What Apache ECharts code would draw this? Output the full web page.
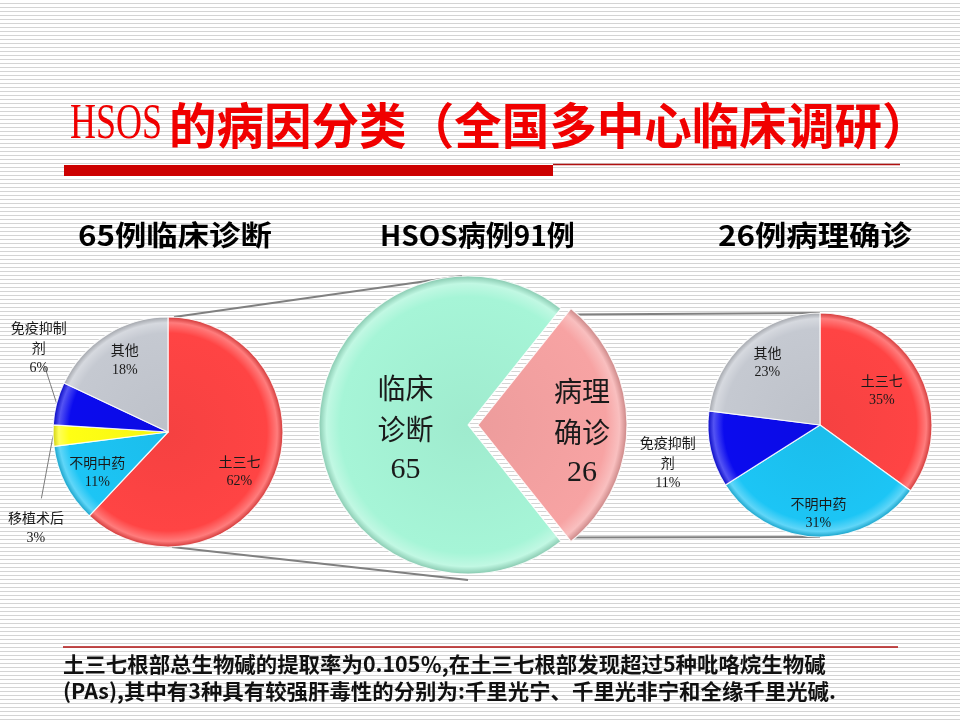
<!DOCTYPE html>
<html style="height: 100%; width: 100%">
<head>
  <meta charset="utf-8" />
  <style>
    body {
      margin: 0;
      height: 100%;
      width: 100%;
      background: #fff repeating-linear-gradient(180deg, #ffffff 0px, #ffffff 3px, #d4d4d4 3px, #d4d4d4 4px);
    }
    #chart-panel { width: 960px; height: 720px; }
  </style>
</head>
<body>
  <div id="chart-panel"></div>
  <script src="https://cdn.jsdelivr.net/npm/echarts@6/dist/echarts.min.js"></script>
  <script>
    // 65例临床诊断 (百分比)
    var leftNames = ["土三七", "不明中药", "移植术后", "免疫抑制剂", "其他"];
    var leftValues = [62, 11, 3, 6, 18];
    // HSOS病例91例
    var midNames = ["临床诊断", "病理确诊"];
    var midValues = [65, 26];
    // 26例病理确诊 (百分比)
    var rightNames = ["土三七", "不明中药", "免疫抑制剂", "其他"];
    var rightValues = [35, 31, 11, 23];

    var titleText = "的病因分类（全国多中心临床调研）";
    var subTitles = ["65例临床诊断", "HSOS病例91例", "26例病理确诊"];
    var noteLines = [
      "土三七根部总生物碱的提取率为0.105％,在土三七根部发现超过5种吡咯烷生物碱",
      "(PAs),其中有3种具有较强肝毒性的分别为:千里光宁、千里光非宁和全缘千里光碱."
    ];

    // 饼图几何
    var L = { cx: 168, cy: 432, r: 115 };
    var M = { cx: 468, cy: 425, r: 149 };
    var R = { cx: 820, cy: 425, r: 112 };
    var explode = 10;

    // 标签位置: [角度(顺时针, 自12点), 半径倍数]
    var leftPlaces = [[119, 0.71], [240, 0.71], [234, 1.42], [303, 1.34], [329, 0.73]];
    var leftGuides = [false, false, true, true, false];
    var midPlaces = [[266, 0.42], [94, 0.70]];
    var rightPlaces = [[61, 0.63], [181, 0.79], [256, 1.40], [320, 0.73]];

    var catColors = {
      "土三七": "#ff4444",
      "不明中药": "#1cc5f5",
      "移植术后": "#ffff14",
      "免疫抑制剂": "#0b0bee",
      "其他": "#c5c9d1"
    };
    var midColors = ["#a6f5d7", "#f7a3a3"];

    var pinkSpan = 360 * midValues[1] / (midValues[0] + midValues[1]);
    var midStart = -pinkSpan / 2; // 病理确诊居右

    var dom = document.getElementById("chart-panel");
    var myChart = echarts.init(dom);

    function mix(hex, target, t) {
      var n = parseInt(hex.slice(1), 16);
      var r = n >> 16, g = (n >> 8) & 255, b = n & 255;
      r = Math.round(r + (target - r) * t);
      g = Math.round(g + (target - g) * t);
      b = Math.round(b + (target - b) * t);
      return "rgb(" + r + "," + g + "," + b + ")";
    }

    function bevel(hex, geo) {
      return {
        type: "radial", x: geo.cx, y: geo.cy, r: geo.r, global: true,
        colorStops: [
          { offset: 0, color: mix(hex, 0, 0.04) },
          { offset: 0.86, color: hex },
          { offset: 0.95, color: mix(hex, 255, 0.3) },
          { offset: 1, color: mix(hex, 0, 0.18) }
        ]
      };
    }

    function polar(geo, deg, dist) {
      var a = deg * Math.PI / 180;
      return [geo.cx + dist * Math.sin(a), geo.cy - dist * Math.cos(a)];
    }

    // 各扇区中线角(顺时针, 自12点)
    function midAngles(values, startDeg) {
      var total = values.reduce(function (a, b) { return a + b; }, 0);
      var acc = startDeg, out = [];
      values.forEach(function (v) {
        var span = 360 * v / total;
        out.push(acc + span / 2);
        acc += span;
      });
      return out;
    }

    function layoutFn(geo, values, places, startDeg, guides) {
      var mids = midAngles(values, startDeg);
      return function (p) {
        var i = p.dataIndex;
        var pos = polar(geo, places[i][0], places[i][1] * geo.r);
        var res = { x: pos[0], y: pos[1], align: "center", verticalAlign: "middle" };
        if (guides && guides[i]) {
          var a = polar(geo, mids[i], geo.r);
          var e = [a[0] + (pos[0] - a[0]) * 0.68, a[1] + (pos[1] - a[1]) * 0.68];
          res.labelLinePoints = [a, [(a[0] + e[0]) / 2, (a[1] + e[1]) / 2], e];
        }
        return res;
      };
    }

    function smallFormatter(p) {
      var n = p.name;
      var lines = n.length > 4 ? [n.slice(0, 4), n.slice(4)] : [n];
      return lines.map(function (s) { return "{n|" + s + "}"; }).join("\n") + "\n{p|" + p.value + "%}";
    }

    var smallRich = {
      n: { fontFamily: "Noto Sans CJK SC", fontSize: 14, color: "#1a1a1a", lineHeight: 20 },
      p: { fontFamily: "Liberation Serif", fontSize: 14, color: "#1a1a1a", lineHeight: 20 }
    };

    function sidePie(geo, names, values, places, guides) {
      return {
        type: "pie",
        center: [geo.cx, geo.cy],
        radius: geo.r,
        startAngle: 90,
        clockwise: true,
        avoidLabelOverlap: false,
        emphasis: { disabled: true },
        itemStyle: { borderColor: "rgba(255,255,255,0.85)", borderWidth: 1.2 },
        label: { show: true, position: "inside", formatter: smallFormatter, rich: smallRich },
        labelLine: { show: false },
        labelLayout: layoutFn(geo, values, places, 0, guides),
        data: names.map(function (n, i) {
          var item = { name: n, value: values[i], itemStyle: { color: bevel(catColors[n], geo) } };
          if (guides && guides[i]) {
            item.label = { position: "outside" };
            item.labelLine = { show: true, length: 6, length2: 6, lineStyle: { color: "#7a7a7a", width: 1 } };
          }
          return item;
        })
      };
    }

    // 中间饼: 两层, 第二层只画分离出来的"病理确诊"
    var midMids = midAngles(midValues, 90 - midStart);
    var pinkShift = polar({ cx: 0, cy: 0 }, midMids[1], explode);
    var MP = { cx: M.cx + pinkShift[0], cy: M.cy + pinkShift[1], r: M.r };

    function midPie(geo, showIdx) {
      return {
        type: "pie",
        center: [geo.cx, geo.cy],
        radius: geo.r,
        startAngle: midStart,
        clockwise: true,
        avoidLabelOverlap: false,
        emphasis: { disabled: true },
        label: {
          show: true,
          position: "inside",
          formatter: function (p) {
            return "{n|" + p.name.slice(0, 2) + "}\n{n|" + p.name.slice(2) + "}\n{v|" + p.value + "}";
          },
          rich: {
            n: { fontFamily: "Noto Sans CJK SC", fontSize: 28, color: "#1a1a1a", lineHeight: 41 },
            v: { fontFamily: "Liberation Serif", fontSize: 30, color: "#1a1a1a", lineHeight: 41 }
          }
        },
        labelLine: { show: false },
        labelLayout: layoutFn(geo, midValues, midPlaces, 90 - midStart, null),
        data: midNames.map(function (n, i) {
          var on = i === showIdx;
          return {
            name: n,
            value: midValues[i],
            label: { show: on },
            itemStyle: on
              ? { color: bevel(midColors[i], geo), borderColor: "rgba(255,255,255,0.85)", borderWidth: 1.2 }
              : { color: "transparent", borderWidth: 0 }
          };
        })
      };
    }

    var option = {
      animation: false,
      backgroundColor: "transparent",
      graphic: [
        // 连接线
        { type: "line", z: 0, shape: { x1: L.cx + 6, y1: L.cy - L.r, x2: M.cx - 6, y2: M.cy - M.r }, style: { stroke: "#808080", lineWidth: 2 } },
        { type: "line", z: 0, shape: { x1: L.cx + 4, y1: L.cy + L.r, x2: M.cx, y2: M.cy + M.r + 6 }, style: { stroke: "#808080", lineWidth: 2 } },
        { type: "line", z: 0, shape: { x1: polar(MP, midMids[1] - pinkSpan / 2, MP.r)[0], y1: polar(MP, midMids[1] - pinkSpan / 2, MP.r)[1] + 6, x2: R.cx, y2: R.cy - R.r }, style: { stroke: "#808080", lineWidth: 2 } },
        { type: "line", z: 0, shape: { x1: polar(MP, midMids[1] + pinkSpan / 2, MP.r)[0], y1: polar(MP, midMids[1] + pinkSpan / 2, MP.r)[1] - 4, x2: R.cx, y2: R.cy + R.r }, style: { stroke: "#808080", lineWidth: 2 } },
        // 标题
        { type: "text", x: 70, y: 125, scaleX: 0.72, style: { text: "HSOS", font: '50px "Liberation Serif"', fill: "#f00000", verticalAlign: "middle", textVerticalAlign: "middle" } },
        { type: "text", x: 169, y: 125, scaleX: 0.97, style: { text: titleText, font: 'bold 49px "Noto Sans CJK SC"', fill: "#f00000", verticalAlign: "middle", textVerticalAlign: "middle" } },
        { type: "rect", shape: { x: 64, y: 165, width: 489, height: 11 }, style: { fill: "#cc0000" } },
        { type: "line", shape: { x1: 553, y1: 164.5, x2: 900, y2: 164.5 }, style: { stroke: "#b01010", lineWidth: 1.5 } },
        // 小标题
        { type: "text", x: 78, y: 235, scaleX: 1.12, style: { text: subTitles[0], font: 'bold 28px "Noto Sans CJK SC"', fill: "#000", verticalAlign: "middle", textVerticalAlign: "middle" } },
        { type: "text", x: 380, y: 235, scaleX: 1.0, style: { text: subTitles[1], font: 'bold 28px "Noto Sans CJK SC"', fill: "#000", verticalAlign: "middle", textVerticalAlign: "middle" } },
        { type: "text", x: 718, y: 235, scaleX: 1.12, style: { text: subTitles[2], font: 'bold 28px "Noto Sans CJK SC"', fill: "#000", verticalAlign: "middle", textVerticalAlign: "middle" } },
        // 底部说明
        { type: "line", shape: { x1: 63, y1: 647, x2: 898, y2: 647 }, style: { stroke: "#b01010", lineWidth: 1.5 } },
        { type: "text", x: 63, y: 664, scaleX: 1.02, style: { text: noteLines[0], font: 'bold 21px "Noto Sans CJK SC"', fill: "#111", verticalAlign: "middle", textVerticalAlign: "middle" } },
        { type: "text", x: 63, y: 691, scaleX: 1.02, style: { text: noteLines[1], font: 'bold 21px "Noto Sans CJK SC"', fill: "#111", verticalAlign: "middle", textVerticalAlign: "middle" } }
      ],
      series: [
        sidePie(L, leftNames, leftValues, leftPlaces, leftGuides),
        midPie(M, 0),
        midPie(MP, 1),
        sidePie(R, rightNames, rightValues, rightPlaces, null)
      ]
    };

    myChart.setOption(option);
  </script>
</body>
</html>
